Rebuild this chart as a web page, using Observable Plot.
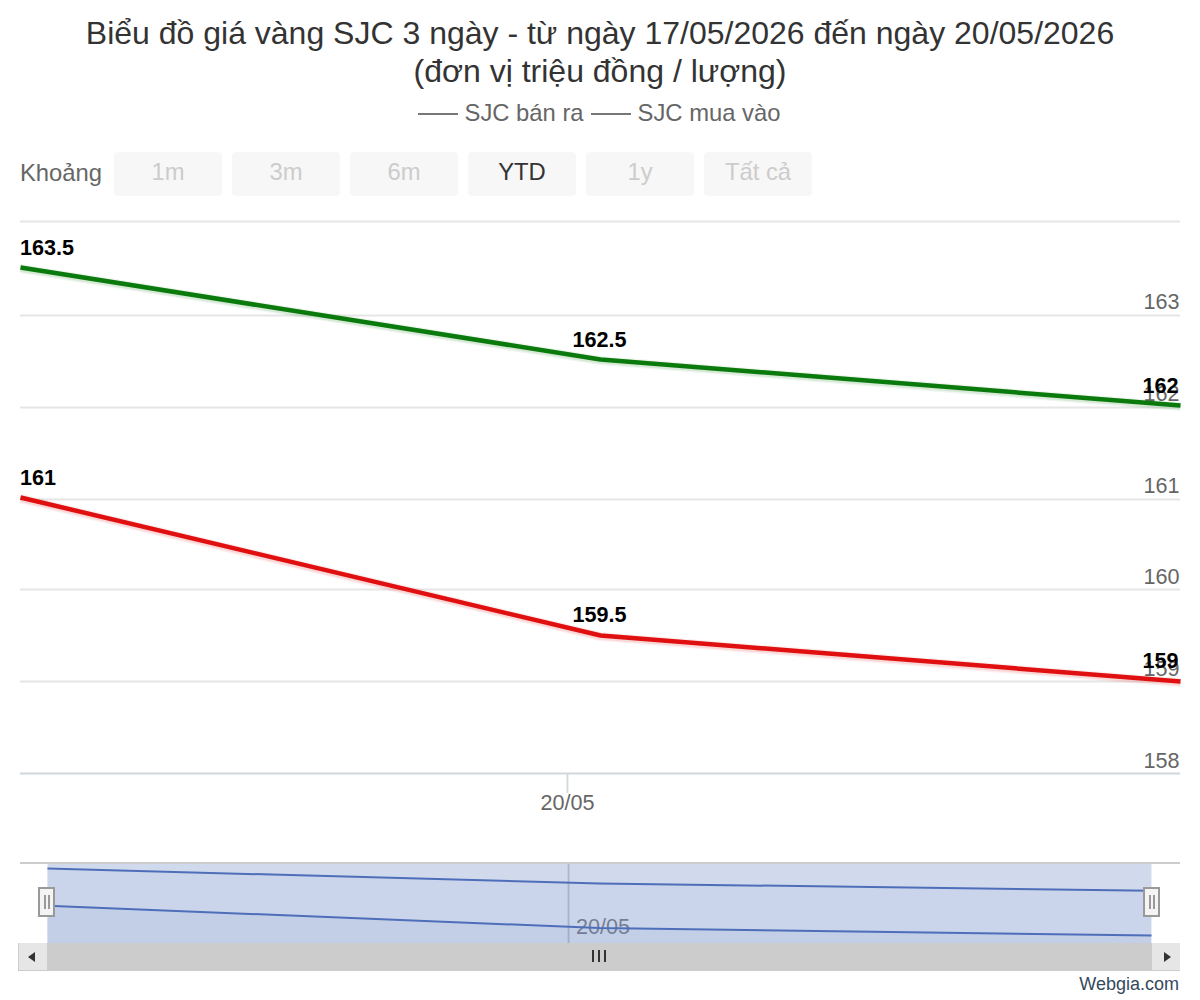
<!DOCTYPE html>
<html lang="vi">
<head>
<meta charset="utf-8">
<script src="https://cdn.jsdelivr.net/npm/d3@7"></script>
<script src="https://cdn.jsdelivr.net/npm/@observablehq/plot@0.6"></script>
<style>
html,body{margin:0;padding:0;background:#fff;}
body{position:relative;width:1200px;height:1000px;overflow:hidden;font-family:"Liberation Sans",Arial,sans-serif;}
.abs{position:absolute;}
#title{left:0;top:14px;width:1200px;text-align:center;font-size:32px;line-height:38px;color:#333;}
#legend{left:-1px;top:99px;width:1200px;text-align:center;font-size:23.8px;line-height:28px;color:#666;white-space:nowrap;}
#legend .sw{display:inline-block;width:40px;height:0;border-top:2px solid #777;vertical-align:6px;margin-right:7px;}
#legend .item{margin-right:7px;}
#legend .item:last-child{margin-right:0;}
#rangeLabel{left:20px;top:158px;font-size:23.8px;line-height:30px;color:#666;}
.btn{position:absolute;top:152px;width:108px;height:44px;background:#f7f7f7;border-radius:4px;text-align:center;font-size:23.8px;line-height:40px;color:#ccc;}
.btn.on{color:#333;}
#main{left:0;top:200px;}
#nav{left:0;top:843px;}
#navTop{left:20px;top:862px;width:1160px;height:2px;background:#ccc;}
#track{left:18px;top:943px;width:1162px;height:28px;background:#ccc;}
.sbtn{position:absolute;top:943px;width:28px;height:27px;background:#e6e6e6;border:1px solid #ccc;border-width:0 0 1px 0;}
.arrow{position:absolute;top:9px;width:0;height:0;border-top:5.5px solid transparent;border-bottom:5.5px solid transparent;}
.grip{position:absolute;top:950px;width:2px;height:12px;background:#333;}
.handle{position:absolute;top:887px;width:13px;height:26px;background:#f4f4f4;border:2px solid #999;box-sizing:content-box;}
.handle i{position:absolute;top:6px;width:2px;height:14px;background:#999;}
#credit{right:21px;top:973px;font-size:18px;line-height:22px;color:#34495e;}
</style>
</head>
<body>
<div class="abs" id="title"></div>
<div class="abs" id="legend"></div>
<div class="abs" id="rangeLabel"></div>
<div id="buttons"></div>
<div class="abs" id="main"></div>
<div class="abs" id="nav"></div>
<div class="abs" id="navTop"></div>
<div class="abs" id="track"></div>
<div class="sbtn" style="left:19px"><div class="arrow" style="left:9px;border-right:7px solid #333"></div></div>
<div class="sbtn" style="left:1152px"><div class="arrow" style="left:12px;border-left:7px solid #333"></div></div>
<div class="grip" style="left:592px"></div><div class="grip" style="left:598px"></div><div class="grip" style="left:604px"></div>
<div class="handle" style="left:38px"><i style="left:3.5px"></i><i style="left:7.5px"></i></div>
<div class="handle" style="left:1143px"><i style="left:3.5px"></i><i style="left:7.5px"></i></div>
<div class="abs" id="credit">Webgia.com</div>
<script>
const titleLines = ["Biểu đồ giá vàng SJC 3 ngày - từ ngày 17/05/2026 đến ngày 20/05/2026", "(đơn vị triệu đồng / lượng)"];
const seriesNames = ["SJC bán ra", "SJC mua vào"];
const rangeLabel = "Khoảng";
const rangeButtons = ["1m", "3m", "6m", "YTD", "1y", "Tất cả"];
const activeButton = "YTD";
const creditText = "Webgia.com";

const times = ["2026-05-19T12:41Z", "2026-05-20T00:41Z", "2026-05-20T12:41Z"];
const sellValues = [163.5, 162.5, 162];
const buyValues = [161, 159.5, 159];
const lowerTicks = [159, 160];
const upperTicks = [161, 162, 163];
const topTick = [164];
const baseTick = [158];
const xTicks = ["2026-05-20T00:00Z"];
const mainDomainY = [158, 164];
const navDomainY = [158.46, 163.84];

const sellColor = "#0a7a0c";
const buyColor = "#e00f10";
const navColor = "#4465b5";
const font = "Liberation Sans, Arial, sans-serif";

document.getElementById("title").innerHTML = titleLines.join("<br>");
document.getElementById("legend").innerHTML = seriesNames
  .map(n => `<span class="item"><span class="sw"></span>${n}</span>`).join("");
document.getElementById("rangeLabel").textContent = rangeLabel;
document.getElementById("credit").textContent = creditText;
document.getElementById("buttons").innerHTML = rangeButtons
  .map((b, i) => `<div class="btn${b === activeButton ? " on" : ""}" style="left:${114 + i * 118}px">${b}</div>`).join("");

const dates = times.map(t => new Date(t));
const tickDates = xTicks.map(t => new Date(t));
const rows = (vals, name) => vals.map((v, i) => ({t: dates[i], v, name, i}));
const sell = rows(sellValues, seriesNames[0]);
const buy = rows(buyValues, seriesNames[1]);
const xDomain = [dates[0], dates[dates.length - 1]];
const fmt = d3.utcFormat("%d/%m");

const labelMark = (data, anchor, dx, dy) => Plot.text(data, {
  x: "t", y: "v", text: d => String(d.v), textAnchor: anchor, dy, dx,
  fontWeight: "bold", fontSize: 21.6, fill: "#000"
});

const halo = (data, color, w, o) => Plot.line(data, {x: "t", y: "v", stroke: color, strokeWidth: w, strokeOpacity: o, dy: 1, strokeLinecap: "butt"});
const yLabels = (ticks, dy) => Plot.text(ticks, {y: d => d, frameAnchor: "right", text: d => String(d), textAnchor: "end", dx: -1, dy, fontSize: 21.6, fill: "#666"});

document.getElementById("main").append(Plot.plot({
  width: 1200, height: 620,
  marginLeft: 20, marginRight: 20, marginTop: 21, marginBottom: 47,
  style: {fontFamily: font, background: "transparent", overflow: "visible"},
  x: {type: "utc", domain: xDomain, axis: null},
  y: {domain: mainDomainY, axis: null},
  marks: [
    Plot.ruleY([...topTick, ...lowerTicks], {stroke: "#e6e6e6", strokeWidth: 2}),
    Plot.ruleY(upperTicks, {stroke: "#e6e6e6", strokeWidth: 2, dy: 2}),
    Plot.ruleY(baseTick, {stroke: "#d0d8dc", strokeWidth: 2}),
    Plot.axisX({ticks: tickDates, tickFormat: fmt, tickSize: 20, tickPadding: 1, stroke: "#d0d8dc", fill: "#666", fontSize: 21.6, label: null, strokeWidth: 1.8, textStroke: "none"}),
    yLabels([...lowerTicks, ...baseTick], -12),
    yLabels(upperTicks, -11),
    halo(sell, sellColor, 9, 0.07), halo(sell, sellColor, 6.5, 0.1),
    halo(buy, buyColor, 9, 0.07), halo(buy, buyColor, 6.5, 0.1),
    Plot.line(sell, {x: "t", y: "v", stroke: sellColor, strokeWidth: 4.5, strokeLinecap: "butt"}),
    Plot.line(buy, {x: "t", y: "v", stroke: buyColor, strokeWidth: 4.5, strokeLinecap: "butt"}),
    labelMark([sell[0], buy[0]], "start", -0.5, -19),
    labelMark([sell[1]], "middle", -1, -19),
    labelMark([buy[1]], "middle", -1, -20),
    labelMark([sell[2]], "end", -2, -19),
    labelMark([buy[2]], "end", -2, -20.5)
  ]
}));

document.getElementById("nav").append(Plot.plot({
  width: 1200, height: 100,
  marginLeft: 47, marginRight: 49, marginTop: 20, marginBottom: 0,
  style: {fontFamily: font, background: "transparent", overflow: "visible"},
  x: {type: "utc", domain: xDomain, axis: null},
  y: {domain: navDomainY, axis: null},
  marks: [
    Plot.ruleX(tickDates, {stroke: "#c8cdd4", strokeWidth: 1.8, dx: 0.5}),
    Plot.text(tickDates, {x: d => d, frameAnchor: "bottom", text: fmt, textAnchor: "start", dx: 8, dy: -10, fontSize: 21.6, fill: "#666", fillOpacity: 0.85}),
    Plot.areaY(sell, {x: "t", y1: navDomainY[0], y2: "v", fill: navColor, fillOpacity: 0.05}),
    Plot.areaY(buy, {x: "t", y1: navDomainY[0], y2: "v", fill: navColor, fillOpacity: 0.05}),
    Plot.line(sell, {x: "t", y: "v", stroke: navColor, strokeWidth: 2, strokeLinecap: "butt"}),
    Plot.line(buy, {x: "t", y: "v", stroke: navColor, strokeWidth: 2, strokeLinecap: "butt"}),
    Plot.frame({fill: "#6685c2", fillOpacity: 0.3, stroke: null})
  ]
}));
</script>
</body>
</html>
